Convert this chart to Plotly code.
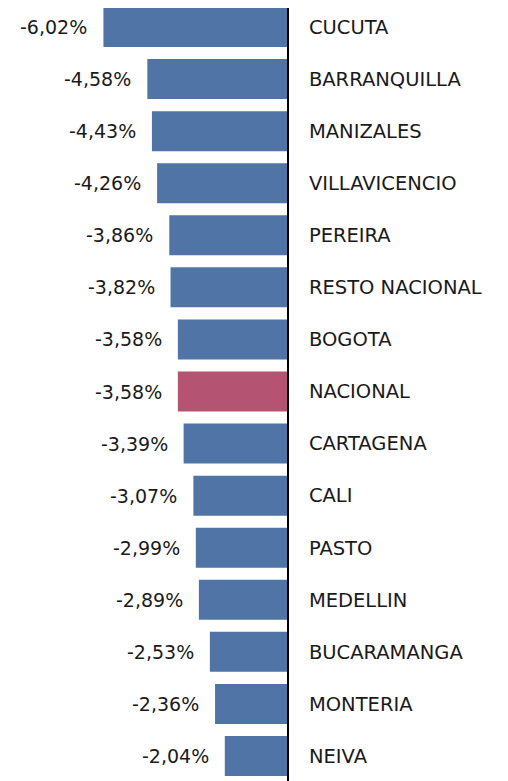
import plotly.graph_objects as go

cities = ["CUCUTA", "BARRANQUILLA", "MANIZALES", "VILLAVICENCIO", "PEREIRA",
          "RESTO NACIONAL", "BOGOTA", "NACIONAL", "CARTAGENA", "CALI", "PASTO",
          "MEDELLIN", "BUCARAMANGA", "MONTERIA", "NEIVA"]
values = [-6.02, -4.58, -4.43, -4.26, -3.86, -3.82, -3.58, -3.58, -3.39,
          -3.07, -2.99, -2.89, -2.53, -2.36, -2.04]
highlight = "NACIONAL"

BLUE = "#4F74A5"
PINK = "#B55472"
colors = [PINK if c == highlight else BLUE for c in cities]
FONT = "DejaVu Sans"

fig = go.Figure(go.Bar(
    x=values, y=cities, orientation="h",
    marker=dict(color=colors, line=dict(width=0)),
    hoverinfo="skip",
))

for c, v in zip(cities, values):
    fig.add_annotation(
        x=v, y=c, xref="x", yref="y",
        text=f"{v:.2f}%".replace(".", ","),
        showarrow=False, xanchor="right", xshift=-14,
        font=dict(family=FONT, size=19, color="#1a1a1a"),
    )

fig.update_layout(
    width=508, height=781,
    margin=dict(l=0, r=229, t=0, b=0),
    paper_bgcolor="white", plot_bgcolor="white",
    bargap=0.232,
    showlegend=False,
    xaxis=dict(range=[-9.15, 0], showgrid=False, zeroline=False,
               showticklabels=False, showline=False, fixedrange=True),
    yaxis=dict(range=[14.634, -0.365], side="right", showgrid=False,
               zeroline=False, showline=True, linecolor="black", linewidth=2,
               ticks="", ticklabelstandoff=16,
               tickfont=dict(family=FONT, size=19.5, color="#1a1a1a"),
               fixedrange=True),
)

fig.write_html("out.html")
